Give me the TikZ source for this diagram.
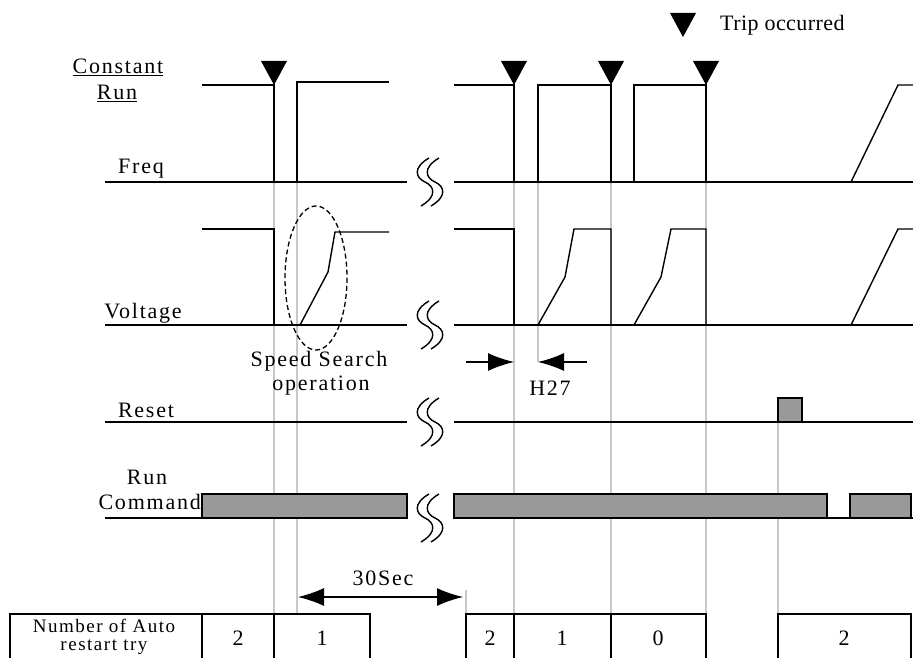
\documentclass[tikz,border=0pt]{standalone}
\usepackage{fontspec}
\setmainfont{Liberation Serif}[LetterSpace=8]
\newfontfamily\tightfont{Liberation Serif}[LetterSpace=2]
\usetikzlibrary{arrows.meta}
\definecolor{barfill}{HTML}{999999}
\definecolor{guide}{HTML}{C8C8C8}
\tikzset{
  lbl/.style={inner sep=0pt, font=\fontsize{22}{25}\selectfont},
  small/.style={inner sep=0pt, font=\fontsize{19}{21}\selectfont},
  sig/.style={line width=1.4pt, line join=miter},
  base/.style={line width=2.6pt},
  guideline/.style={guide, line width=1.2pt},
  bar/.style={draw=black, fill=barfill, line width=1.6pt},
  cell/.style={line width=1.4pt},
  trip/.style={fill=black},
  bigarrow/.style={line width=1.4pt, -{Latex[length=26pt,width=18pt]}},
  brk/.style={line width=1.4pt}
}
\newcommand\wavybreak[2]{%
  \draw[brk] (#1+4-5,#2-24) .. controls (#1-13-5,#2-14) and (#1-9-5,#2-4) .. (#1-5,#2)
     .. controls (#1+9-5,#2+4) and (#1+13-5,#2+14) .. (#1-4-5,#2+24);
  \draw[brk] (#1+4+5,#2-24) .. controls (#1-13+5,#2-14) and (#1-9+5,#2-4) .. (#1+5,#2)
     .. controls (#1+9+5,#2+4) and (#1+13+5,#2+14) .. (#1-4+5,#2+24);
}
\newcommand\tripmark[2]{%
  \fill[trip] (#1-13,#2-24) -- (#1+13,#2-24) -- (#1,#2) -- cycle;
}
\begin{document}
\begin{tikzpicture}[x=1pt,y=-1pt]
\clip (0,0) rectangle (913,658);
\fill[white] (0,0) rectangle (913,658);

% ---------- guide lines ----------
\draw[guideline] (274,182) -- (274,614);
\draw[guideline] (297,182) -- (297,614);
\draw[guideline] (514,182) -- (514,614);
\draw[guideline] (538,182) -- (538,362);
\draw[guideline] (611,182) -- (611,614);
\draw[guideline] (706,182) -- (706,614);
\draw[guideline] (778,422) -- (778,614);
\draw[guideline] (466,590) -- (466,614);

% ---------- legend ----------
\tripmark{683}{37}
\node[lbl, anchor=west, font=\fontsize{22}{25}\tightfont] (legend) at (720,25) {Trip occurred};

% ---------- labels ----------
\node[lbl] (constant) at (118,67) {\underline{Constant}};
\node[lbl] (construn) at (117,93) {\underline{Run}};
\node[lbl] (freq) at (141,169) {Freq};
\node[lbl] (voltage) at (143,313) {Voltage};
\node[lbl] (reset) at (146,410) {Reset};
\node[lbl] (run) at (147,477) {Run};
\node[lbl, anchor=east] (command) at (201,502) {Command};
\node[lbl] (speed) at (319,361) {Speed Search};
\node[lbl] (operation) at (321,386) {operation};
\node[lbl] (h27) at (550,388) {H27};
\node[lbl] (thirty) at (383,578) {30Sec};

% ---------- Freq ----------
\draw[base] (105,182) -- (407,182);
\draw[base] (454,182) -- (913,182);
\draw[sig] (202,85) -- (274,85) -- (274,182);
\draw[sig] (297,182) -- (297,82) -- (389,82);
\draw[sig] (454,85) -- (514,85) -- (514,182);
\draw[sig] (538,182) -- (538,85) -- (611,85) -- (611,182);
\draw[sig] (634,182) -- (634,85) -- (706,85) -- (706,182);
\draw[sig] (851,182) -- (898,85) -- (913,85);
\tripmark{274}{85}
\tripmark{514}{85}
\tripmark{611}{85}
\tripmark{706}{85}

% ---------- Voltage ----------
\draw[base] (105,325) -- (407,325);
\draw[base] (454,325) -- (913,325);
\draw[sig] (202,229) -- (274,229) -- (274,325);
\draw[sig] (300,325) -- (328,272) -- (335,232) -- (389,232);
\draw[sig] (454,229) -- (514,229) -- (514,325);
\draw[sig] (538,325) -- (565,277) -- (574,229) -- (611,229) -- (611,325);
\draw[sig] (634,325) -- (661,277) -- (671,229) -- (706,229) -- (706,325);
\draw[sig] (851,325) -- (898,229) -- (913,229);
\draw[line width=1.3pt, dash pattern=on 5pt off 3pt] (316,278) ellipse [x radius=31, y radius=72];

% ---------- H27 arrows ----------
\coordinate (h27a) at (466,362);
\coordinate (h27b) at (514,362);
\coordinate (h27c) at (587,362);
\coordinate (h27d) at (538,362);
\draw[bigarrow] (h27a) -- (h27b);
\draw[bigarrow] (h27c) -- (h27d);

% ---------- Reset ----------
\draw[base] (105,422) -- (407,422);
\draw[base] (454,422) -- (913,422);
\draw[bar] (778,422) rectangle (802,398);

% ---------- Run command ----------
\draw[bar] (202,518) rectangle (407,494);
\draw[bar] (454,518) rectangle (827,494);
\draw[bar] (850,518) rectangle (911,494);
\draw[base] (105,518) -- (407,518);
\draw[base] (454,518) -- (913,518);

% ---------- breaks ----------
\wavybreak{430}{182}
\wavybreak{430}{325}
\wavybreak{430}{422}
\wavybreak{430}{518}

% ---------- 30Sec ----------
\coordinate (s30a) at (298,597);
\coordinate (s30b) at (463,597);
\draw[line width=1.4pt, {Latex[length=26pt,width=18pt]}-{Latex[length=26pt,width=18pt]}] (s30a) -- (s30b);

% ---------- table ----------
\draw[cell] (10,680) -- (10,614) -- (370,614) -- (370,680);
\draw[cell] (202,614) -- (202,680);
\draw[cell] (274,614) -- (274,680);
\draw[cell] (466,680) -- (466,614) -- (706,614) -- (706,680);
\draw[cell] (514,614) -- (514,680);
\draw[cell] (611,614) -- (611,680);
\draw[cell] (778,680) -- (778,614) -- (911,614) -- (911,680);
\node[small] (tnum) at (104,626) {Number of Auto};
\node[small] (trestart) at (104,647) {restart try};
\node[lbl] (c1) at (238,638) {2};
\node[lbl] (c2) at (322,638) {1};
\node[lbl] (c3) at (490,638) {2};
\node[lbl] (c4) at (562,638) {1};
\node[lbl] (c5) at (658,638) {0};
\node[lbl] (c6) at (844,638) {2};
\end{tikzpicture}
\end{document}
